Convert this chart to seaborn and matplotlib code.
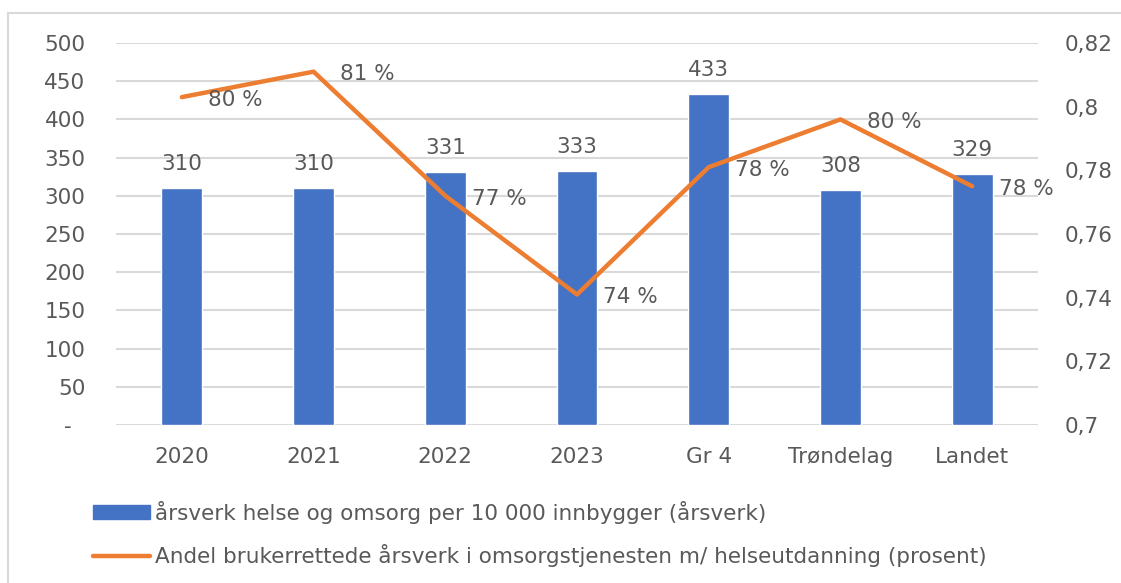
import matplotlib.pyplot as plt
import matplotlib.patches as mpatches
from matplotlib.lines import Line2D
from matplotlib.ticker import FuncFormatter
import seaborn as sns
import pandas as pd
import numpy as np

# data
kategorier = ['2020', '2021', '2022', '2023', 'Gr 4', 'Trøndelag', 'Landet']
aarsverk = [310, 310, 331, 333, 433, 308, 329]
andel = [0.803, 0.811, 0.772, 0.741, 0.781, 0.796, 0.775]
andel_tekst = ['80 %', '81 %', '77 %', '74 %', '78 %', '80 %', '78 %']

navn_bar = 'årsverk helse og omsorg per 10 000 innbygger (årsverk)'
navn_linje = 'Andel brukerrettede årsverk i omsorgstjenesten m/ helseutdanning (prosent)'

df = pd.DataFrame({'kategori': kategorier, 'aarsverk': aarsverk, 'andel': andel})

sns.set_theme(style='white')
plt.rcParams['font.family'] = ['DejaVu Sans']

blaa = '#4472C4'
oransje = '#ED7D31'
tekst = '#595959'
grid = '#D9D9D9'
fs = 15.5

fig = plt.figure(figsize=(11.21, 5.83), dpi=100)
ax = fig.add_axes([116 / 1121, 1 - 425 / 583, (1038 - 116) / 1121, (425 - 43) / 583])

sns.barplot(data=df, x='kategori', y='aarsverk', color=blaa, width=0.31,
            saturation=1, ax=ax)
ax.set_ylim(0, 500)
ax.set_yticks(np.arange(0, 501, 50))
ax.yaxis.set_major_formatter(FuncFormatter(lambda v, p: '-  ' if v == 0 else f'{int(v)}'))
ax.set_xlim(-0.5, 6.5)
ax.grid(axis='y', color=grid, linewidth=1.5)
ax.set_axisbelow(True)
for s in ax.spines.values():
    s.set_visible(False)
ax.set_xlabel('')
ax.set_ylabel('')
ax.tick_params(axis='both', colors=tekst, labelsize=fs, length=0)
ax.tick_params(axis='x', pad=16)
ax.tick_params(axis='y', pad=22)

for i, v in enumerate(aarsverk):
    ax.annotate(str(v), (i, v), xytext=(0, 10), textcoords='offset points',
                ha='center', va='bottom', fontsize=fs, color=tekst)

ax2 = ax.twinx()
sns.lineplot(x=np.arange(len(kategorier)), y=andel, color=oransje, linewidth=3.2,
             ax=ax2, solid_capstyle='round')
ax2.set_ylim(0.7, 0.82)
ax2.set_yticks([0.70, 0.72, 0.74, 0.76, 0.78, 0.80, 0.82])
ax2.yaxis.set_major_formatter(FuncFormatter(lambda v, p: f'{round(v, 2):g}'.replace('.', ',')))
for s in ax2.spines.values():
    s.set_visible(False)
ax2.tick_params(axis='y', colors=tekst, labelsize=fs, length=0, pad=19)
ax2.set_xlim(-0.5, 6.5)

for i, (v, t) in enumerate(zip(andel, andel_tekst)):
    ax2.annotate(t, (i, v), xytext=(19, -2), textcoords='offset points',
                 ha='left', va='center', fontsize=fs, color=tekst)

handles = [mpatches.Patch(color=blaa), Line2D([0], [0], color=oransje, linewidth=3.2)]
fig.legend(handles, [navn_bar, navn_linje], loc='upper left',
           bbox_to_anchor=(84 / 1121, 1 - 492 / 583), frameon=False, fontsize=fs,
           labelcolor=tekst, handlelength=2.65, handletextpad=0.25, labelspacing=0.95,
           handleheight=0.6, borderaxespad=0)

fig.patches.append(mpatches.Rectangle((8 / 1121, -0.1), 1.2, 1 - 13 / 583 + 0.1,
                                      transform=fig.transFigure, fill=False,
                                      edgecolor=grid, linewidth=1.5))

fig.savefig('out.png', dpi=100)
